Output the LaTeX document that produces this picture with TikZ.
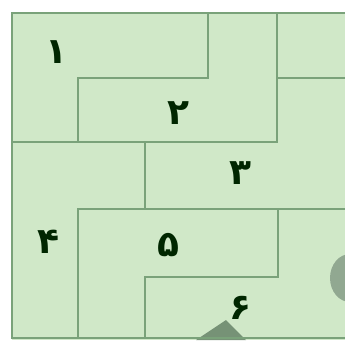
\documentclass[tikz,border=0pt]{standalone}
\usepackage{fontspec}
\newfontfamily\digitfont{DejaVu Sans}
\usepackage{tikz}
\definecolor{cellfill}{RGB}{208,232,200}
\definecolor{wallline}{RGB}{122,162,122}
\definecolor{blobgray}{RGB}{118,146,118}
\begin{document}
\begin{tikzpicture}[x=1pt,y=-1pt,
  wall/.style={draw=wallline,line width=2.8pt,line cap=rect},
  digit/.style={font=\digitfont\bfseries\fontsize{36}{36}\selectfont,text=black!85!green}]
\useasboundingbox (0,0) rectangle (345,340);
\fill[white] (0,0) rectangle (345,340);
\fill[cellfill] (12,13) rectangle (345,340);
% blobs cut by the edge
\fill[blobgray!80] (350,278) ellipse (20 and 24);
\fill[blobgray] (196,340)--(226,320)--(246,340)--cycle;
% frame
\draw[wall] (345,13)--(12,13)--(12,338)--(345,338);
% inner walls
\draw[wall] (208,13)--(208,78)--(78,78)--(78,142);
\draw[wall] (277,13)--(277,142)--(12,142);
\draw[wall] (277,78)--(345,78);
\draw[wall] (145,142)--(145,209);
\draw[wall] (78,338)--(78,209)--(345,209);
\draw[wall] (278,209)--(278,277)--(145,277)--(145,338);
\node[digit] (n1) at (56,52) {۱};
\node[digit] (n2) at (178,113) {۲};
\node[digit] (n3) at (240,173) {۳};
\node[digit] (n4) at (48,242) {۴};
\node[digit] (n5) at (168,245) {۵};
\node[digit] (n6) at (240,308) {۶};
\end{tikzpicture}
\end{document}
